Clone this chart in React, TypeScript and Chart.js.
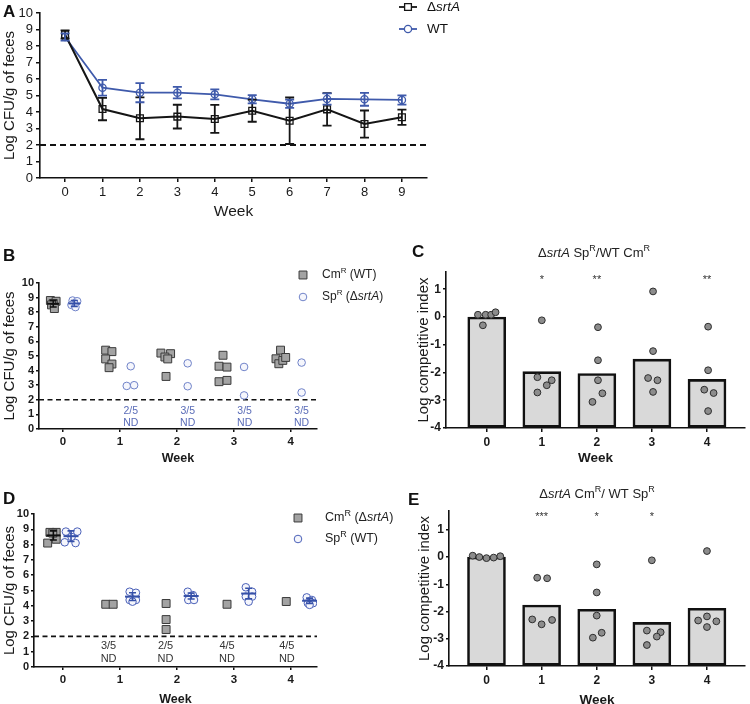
import React, { useEffect, useRef } from 'react';
import { Chart, registerables } from 'chart.js';

Chart.register(...registerables);

const FONT = "'Liberation Sans', Arial, Helvetica, sans-serif";

// ===== Panel A: weekly mean ± SD =====
const weeksA = [0, 1, 2, 3, 4, 5, 6, 7, 8, 9];
const srtAMean = [8.7, 4.18, 3.62, 3.72, 3.58, 4.08, 3.47, 4.16, 3.27, 3.68];
const srtASD = [0.25, 0.68, 1.27, 0.72, 0.85, 0.67, 1.41, 0.99, 0.82, 0.46];
const wtMean = [8.55, 5.47, 5.17, 5.17, 5.07, 4.77, 4.5, 4.79, 4.77, 4.73];
const wtSD = [0.22, 0.48, 0.58, 0.35, 0.3, 0.25, 0.25, 0.34, 0.39, 0.28];
const detectionLimit = 2;
const logCfuTicks = [0, 1, 2, 3, 4, 5, 6, 7, 8, 9, 10];

// ===== Panel B: CmR (WT) vs SpR (ΔsrtA) =====
const weeksBD = [0, 1, 2, 3, 4];
const bCmWT = [
  [8.8, 8.75, 8.6, 8.5, 8.25],
  [5.4, 5.3, 4.8, 4.45, 4.2],
  [5.2, 5.16, 4.93, 4.8, 3.6],
  [5.05, 4.3, 4.24, 3.24, 3.33],
  [5.4, 4.81, 4.47, 4.7, 4.9],
];
const bCmWTJitter = [
  [-0.22, -0.12, -0.17, -0.2, -0.15],
  [-0.25, -0.14, -0.25, -0.14, -0.19],
  [-0.28, -0.11, -0.21, -0.16, -0.19],
  [-0.19, -0.26, -0.12, -0.26, -0.12],
  [-0.18, -0.26, -0.21, -0.14, -0.09],
];
const bSpSrtA = [
  [8.8, 8.75, 8.6, 8.5, 8.35],
  [4.3, 2.95, 3.0],
  [4.5, 2.93],
  [4.25, 2.3],
  [4.55, 2.5],
];
const bSpSrtAJitter = [
  [0.17, 0.25, 0.2, 0.15, 0.22],
  [0.19, 0.12, 0.25],
  [0.19, 0.19],
  [0.18, 0.18],
  [0.19, 0.19],
];
const bCmWTMean = [8.58];
const bCmWTSD = [0.22];
const bSpSrtAMean = [8.6];
const bSpSrtASD = [0.2];
const bNotDetected = ['', '2/5', '3/5', '3/5', '3/5'];

// ===== Panel D: CmR (ΔsrtA) vs SpR (WT) =====
const dCmSrtA = [
  [8.1, 8.8, 8.8, 8.35, 8.75],
  [4.1, 4.1],
  [4.15, 3.1, 2.45],
  [4.1],
  [4.28],
];
const dCmSrtAJitter = [
  [-0.27, -0.23, -0.12, -0.12, -0.18],
  [-0.25, -0.12],
  [-0.19, -0.19, -0.19],
  [-0.12],
  [-0.08],
];
const dSpWT = [
  [8.85, 8.85, 8.5, 8.15, 8.1],
  [4.92, 4.85, 4.38, 4.38, 4.27],
  [4.92, 4.7, 4.6, 4.38, 4.38],
  [5.21, 4.92, 4.6, 4.6, 4.27],
  [4.55, 4.38, 4.17, 4.17, 4.06],
];
const dSpWTJitter = [
  [0.05, 0.25, 0.15, 0.03, 0.22],
  [0.17, 0.28, 0.17, 0.28, 0.22],
  [0.19, 0.28, 0.25, 0.2, 0.3],
  [0.21, 0.32, 0.21, 0.32, 0.26],
  [0.28, 0.37, 0.3, 0.39, 0.33],
];
const dCmSrtAMean = [8.6];
const dCmSrtASD = [0.3];
const dSpWTMean = [8.55, 4.6, 4.64, 4.8, 4.33];
const dSpWTSD = [0.35, 0.25, 0.2, 0.35, 0.17];
const dSpWTMeanJitter = [0.14, 0.22, 0.25, 0.26, 0.33];
const dNotDetected = ['', '3/5', '2/5', '4/5', '4/5'];
const dNotDetectedJitter = [0, -0.2, -0.2, -0.12, -0.07];

// ===== Panels C & E: competitive index =====
const weeksCE = [0, 1, 2, 3, 4];
const ciTicks = [-4, -3, -2, -1, 0, 1];
const cMeans = [0, -1.97, -2.04, -1.52, -2.25];
const cDots = [
  [0.08, 0.08, 0.08, 0.17, -0.3],
  [-0.12, -2.17, -2.28, -2.46, -2.72],
  [-0.37, -1.56, -2.28, -2.75, -3.06],
  [0.92, -1.23, -2.2, -2.28, -2.7],
  [-0.35, -1.92, -2.62, -2.74, -3.39],
];
const cDotsJitter = [
  [-0.16, -0.02, 0.08, 0.16, -0.07],
  [0, -0.08, 0.18, 0.09, -0.08],
  [0.02, 0.02, 0.02, 0.1, -0.08],
  [0.02, 0.02, -0.07, 0.1, 0.02],
  [0.02, 0.02, -0.05, 0.12, 0.02],
];
const cStars = ['', '*', '**', '', '**'];

const eMeans = [0, -1.76, -1.92, -2.4, -1.88];
const eDots = [
  [0.05, 0, -0.04, -0.02, 0.03],
  [-0.76, -0.78, -2.29, -2.31, -2.47],
  [-0.27, -1.3, -2.15, -2.78, -2.96],
  [-0.12, -2.7, -2.76, -2.92, -3.23],
  [0.22, -2.33, -2.18, -2.36, -2.57],
];
const eDotsJitter = [
  [-0.25, -0.13, 0, 0.13, 0.25],
  [-0.08, 0.1, -0.17, 0.19, 0],
  [0, 0, 0, 0.09, -0.07],
  [0, -0.09, 0.16, 0.09, -0.09],
  [0, -0.16, 0, 0.17, 0],
];
const eStars = ['', '***', '*', '*', ''];

// ===== helpers =====
type Seg = { t: string; it?: boolean; sup?: boolean };

function drawRich(ctx: any, segs: Seg[], x: number, y: number, size: number, color: string, align: string, bold?: boolean) {
  const w = bold ? 'bold ' : '';
  const fontOf = (s: Seg) => `${s.it ? 'italic ' : ''}${w}${s.sup ? Math.round(size * 0.7) : size}px ${FONT}`;
  let total = 0;
  const widths = segs.map((s) => {
    ctx.font = fontOf(s);
    const m = ctx.measureText(s.t).width;
    total += m;
    return m;
  });
  let cx = align === 'center' ? x - total / 2 : align === 'right' ? x - total : x;
  ctx.fillStyle = color;
  ctx.textAlign = 'left';
  ctx.textBaseline = 'middle';
  segs.forEach((s, i) => {
    ctx.font = fontOf(s);
    ctx.fillText(s.t, cx, s.sup ? y - size * 0.36 : y);
    cx += widths[i];
  });
}

type Note = { segs: Seg[]; x: number; y: number; data?: boolean; size: number; color: string; bold?: boolean; align?: string };
type Key = { kind: string; line?: boolean; x: number; y: number; r: number; stroke: string; fill: string; lw?: number };

function decorPlugin(notes: Note[], keys: Key[] = []) {
  return {
    id: 'decor',
    afterDraw(chart: any) {
      const ctx = chart.ctx;
      ctx.save();
      for (const k of keys) {
        ctx.lineWidth = k.lw ?? 1.2;
        ctx.strokeStyle = k.stroke;
        ctx.fillStyle = k.fill;
        if (k.line) {
          ctx.beginPath();
          ctx.moveTo(k.x - 9, k.y);
          ctx.lineTo(k.x + 9, k.y);
          ctx.lineWidth = 1.8;
          ctx.stroke();
          ctx.lineWidth = k.lw ?? 1.2;
        }
        ctx.beginPath();
        if (k.kind === 'rect') {
          const h = k.r * Math.SQRT1_2;
          ctx.rect(k.x - h, k.y - h, 2 * h, 2 * h);
        } else {
          ctx.arc(k.x, k.y, k.r, 0, Math.PI * 2);
        }
        ctx.fill();
        ctx.stroke();
      }
      for (const n of notes) {
        let x = n.x;
        let y = n.y;
        if (n.data) {
          x = chart.scales.x.getPixelForValue(n.x);
          y = chart.scales.y.getPixelForValue(n.y);
        }
        drawRich(ctx, n.segs, x, y, n.size, n.color, n.align ?? 'center', n.bold);
      }
      ctx.restore();
    },
  };
}

const errorBarPlugin = {
  id: 'errorBars',
  afterDatasetsDraw(chart: any) {
    const ctx = chart.ctx;
    const ys = chart.scales.y;
    chart.data.datasets.forEach((ds: any, di: number) => {
      if (!ds.errorBars) return;
      const meta = chart.getDatasetMeta(di);
      ctx.save();
      ctx.strokeStyle = ds.errorColor;
      ctx.lineWidth = ds.errorWidth ?? 1.6;
      meta.data.forEach((el: any, i: number) => {
        const p = ds.data[i];
        const sd = ds.errorBars[i];
        const x = el.x;
        const yTop = ys.getPixelForValue(p.y + sd);
        const yBot = ys.getPixelForValue(p.y - sd);
        const cw = ds.capWidth ?? 4;
        ctx.beginPath();
        ctx.moveTo(x, yTop);
        ctx.lineTo(x, yBot);
        ctx.moveTo(x - cw, yTop);
        ctx.lineTo(x + cw, yTop);
        ctx.moveTo(x - cw, yBot);
        ctx.lineTo(x + cw, yBot);
        ctx.stroke();
      });
      ctx.restore();
    });
  },
};

function axis(o: any, isX: boolean) {
  return {
    type: 'linear',
    min: o.min,
    max: o.max,
    offset: false,
    afterBuildTicks: (s: any) => {
      s.ticks = o.ticks.map((v: number) => ({ value: v }));
    },
    afterFit: (s: any) => {
      if (isX) s.height = o.size;
      else s.width = o.size;
    },
    grid: { display: true, drawOnChartArea: false, drawTicks: true, tickLength: o.tickLength ?? 4, color: '#111', lineWidth: 1.5, offset: false },
    border: { display: true, color: '#111', width: 1.6 },
    ticks: { font: o.tickFont, color: '#1a1a1a', padding: o.tickPad ?? 3, autoSkip: false, maxRotation: 0 },
    title: o.title
      ? { display: true, text: o.title, font: o.titleFont, color: '#1a1a1a', padding: o.titlePad }
      : { display: false },
  };
}

const scatterPoints = (weeks: number[], vals: number[][], jitter: number[][]) =>
  vals.flatMap((col, i) => col.map((v, j) => ({ x: weeks[i] + jitter[i][j], y: v })));

const meanPoints = (weeks: number[], means: number[], offs: number[]) =>
  means.map((m, i) => ({ x: weeks[i] + offs[i], y: m }));

const letter = (t: string, x: number, y: number): Note => ({ segs: [{ t }], x, y, size: 17, color: '#111', bold: true, align: 'left' });

const baseOptions = (padding: any, scales: any) => ({
  animation: false,
  responsive: false,
  events: [],
  layout: { padding },
  plugins: { legend: { display: false }, tooltip: { enabled: false }, title: { display: false } },
  scales,
});

// ===== chart builders =====
function buildA() {
  const xMin = -0.67;
  const xMax = 9.67;
  return {
    type: 'line',
    data: {
      datasets: [
        {
          label: 'ΔsrtA',
          data: weeksA.map((w, i) => ({ x: w, y: srtAMean[i] })),
          borderColor: '#151515',
          borderWidth: 2,
          pointStyle: 'rect',
          pointRadius: 4.8,
          pointBackgroundColor: 'rgba(0,0,0,0)',
          pointBorderColor: '#151515',
          pointBorderWidth: 1.3,
          fill: false,
          tension: 0,
          errorBars: srtASD,
          errorColor: '#151515',
          errorWidth: 1.8,
          capWidth: 4.5,
        },
        {
          label: 'WT',
          data: weeksA.map((w, i) => ({ x: w, y: wtMean[i] })),
          borderColor: '#3f5aab',
          borderWidth: 1.8,
          pointStyle: 'circle',
          pointRadius: 3.6,
          pointBackgroundColor: 'rgba(0,0,0,0)',
          pointBorderColor: '#3f5aab',
          pointBorderWidth: 1.3,
          fill: false,
          tension: 0,
          errorBars: wtSD,
          errorColor: '#3f5aab',
          errorWidth: 1.8,
          capWidth: 4.5,
        },
        {
          label: 'LOD',
          data: [{ x: xMin, y: detectionLimit }, { x: xMax, y: detectionLimit }],
          borderColor: '#111',
          borderWidth: 1.8,
          borderDash: [6, 4],
          pointRadius: 0,
          fill: false,
        },
      ],
    },
    options: baseOptions({ left: 0, top: 13, right: 43, bottom: 0 }, {
      x: axis({ min: xMin, max: xMax, ticks: weeksA, size: 47, tickFont: { family: FONT, size: 13 }, title: 'Week', titleFont: { family: FONT, size: 15.5 }, titlePad: { top: 0, bottom: 4 } }, true),
      y: axis({ min: 0, max: 10, ticks: logCfuTicks, size: 40, tickFont: { family: FONT, size: 13 }, title: 'Log CFU/g of feces', titleFont: { family: FONT, size: 15 }, titlePad: { top: 1, bottom: 0 } }, false),
    }),
    plugins: [
      errorBarPlugin,
      decorPlugin(
        [
          letter('A', 3, 12.5),
          { segs: [{ t: 'Δ' }, { t: 'srtA', it: true }], x: 427, y: 7, size: 13.5, color: '#111', align: 'left' },
          { segs: [{ t: 'WT' }], x: 427, y: 29, size: 13.5, color: '#111', align: 'left' },
        ],
        [
          { kind: 'rect', line: true, x: 408, y: 7, r: 4.8, stroke: '#151515', fill: '#fff', lw: 1.3 },
          { kind: 'circle', line: true, x: 408, y: 29, r: 3.6, stroke: '#3f5aab', fill: '#fff', lw: 1.3 },
        ]
      ),
    ],
  };
}

function scatterPanel(cfg: any) {
  return {
    type: 'scatter',
    data: {
      datasets: [
        ...cfg.means,
        {
          label: cfg.sqLabel,
          data: scatterPoints(weeksBD, cfg.sqVals, cfg.sqJit),
          pointStyle: 'rect',
          pointRadius: 5.6,
          pointBackgroundColor: '#a3a3a3',
          pointBorderColor: '#3a3a3a',
          pointBorderWidth: 1,
        },
        {
          label: cfg.ciLabel,
          data: scatterPoints(weeksBD, cfg.ciVals, cfg.ciJit),
          pointStyle: 'circle',
          pointRadius: 3.8,
          pointBackgroundColor: '#f5f6fc',
          pointBorderColor: cfg.ciColor,
          pointBorderWidth: 1,
        },
        {
          label: 'LOD',
          type: 'line',
          data: [{ x: cfg.xMin, y: detectionLimit }, { x: cfg.xMax, y: detectionLimit }],
          borderColor: '#111',
          borderWidth: 1.6,
          borderDash: [5, 3.5],
          pointRadius: 0,
          fill: false,
        },
      ],
    },
    options: baseOptions(cfg.padding, {
      x: axis({ min: cfg.xMin, max: cfg.xMax, ticks: weeksBD, size: cfg.xSize, tickLength: 3, tickFont: { family: FONT, size: 11.5, weight: 'bold' }, title: 'Week', titleFont: { family: FONT, size: 12.5, weight: 'bold' }, titlePad: { top: 0, bottom: cfg.weekPad } }, true),
      y: axis({ min: 0, max: 10, ticks: logCfuTicks, size: cfg.ySize, tickLength: 3, tickPad: 2, tickFont: { family: FONT, size: 11, weight: 'bold' }, title: 'Log CFU/g of feces', titleFont: { family: FONT, size: 15 }, titlePad: { top: 1, bottom: 0 } }, false),
    }),
    plugins: [errorBarPlugin, decorPlugin(cfg.notes, cfg.keys)],
  };
}

const meanDataset = (pts: any[], sd: number[], color: string, r: number) => ({
  label: 'mean',
  data: pts,
  pointStyle: 'line',
  pointRadius: r,
  pointBorderColor: color,
  pointBorderWidth: 2,
  pointBackgroundColor: color,
  errorBars: sd,
  errorColor: color,
  errorWidth: 1.6,
  capWidth: 3.5,
});

function buildB() {
  const ndNotes: Note[] = [];
  weeksBD.forEach((w, i) => {
    if (!bNotDetected[i]) return;
    ndNotes.push({ segs: [{ t: bNotDetected[i] }], x: w + 0.19, y: 1.2, data: true, size: 10.5, color: '#5a6cb8' });
    ndNotes.push({ segs: [{ t: 'ND' }], x: w + 0.19, y: 0.42, data: true, size: 10.5, color: '#5a6cb8' });
  });
  return scatterPanel({
    xMin: -0.42,
    xMax: 4.46,
    padding: { left: 0, top: 48, right: 73, bottom: 0 },
    xSize: 41,
    ySize: 39,
    weekPad: 4,
    sqLabel: 'CmR (WT)',
    sqVals: bCmWT,
    sqJit: bCmWTJitter,
    ciLabel: 'SpR (ΔsrtA)',
    ciVals: bSpSrtA,
    ciJit: bSpSrtAJitter,
    ciColor: '#6f82c8',
    means: [
      meanDataset(meanPoints(weeksBD, bCmWTMean, [-0.17]), bCmWTSD, '#111', 6),
      meanDataset(meanPoints(weeksBD, bSpSrtAMean, [0.2]), bSpSrtASD, '#3550a8', 6),
    ],
    notes: [
      letter('B', 3, 21),
      { segs: [{ t: 'Cm' }, { t: 'R', sup: true }, { t: ' (WT)' }], x: 322, y: 40, size: 12, color: '#222', align: 'left' },
      { segs: [{ t: 'Sp' }, { t: 'R', sup: true }, { t: ' (Δ' }, { t: 'srtA', it: true }, { t: ')' }], x: 322, y: 62, size: 12, color: '#222', align: 'left' },
      ...ndNotes,
    ],
    keys: [
      { kind: 'rect', x: 303, y: 40, r: 5.6, stroke: '#3a3a3a', fill: '#a3a3a3', lw: 1 },
      { kind: 'circle', x: 303, y: 62, r: 3.8, stroke: '#6f82c8', fill: '#f5f6fc', lw: 1 },
    ],
  });
}

function buildD() {
  const ndNotes: Note[] = [];
  weeksBD.forEach((w, i) => {
    if (!dNotDetected[i]) return;
    ndNotes.push({ segs: [{ t: dNotDetected[i] }], x: w + dNotDetectedJitter[i], y: 1.37, data: true, size: 11, color: '#333' });
    ndNotes.push({ segs: [{ t: 'ND' }], x: w + dNotDetectedJitter[i], y: 0.5, data: true, size: 11, color: '#333' });
  });
  return scatterPanel({
    xMin: -0.51,
    xMax: 4.46,
    padding: { left: 0, top: 34, right: 78, bottom: 0 },
    xSize: 53,
    ySize: 34,
    weekPad: 13,
    sqLabel: 'CmR (ΔsrtA)',
    sqVals: dCmSrtA,
    sqJit: dCmSrtAJitter,
    ciLabel: 'SpR (WT)',
    ciVals: dSpWT,
    ciJit: dSpWTJitter,
    ciColor: '#4a60b8',
    means: [
      meanDataset(meanPoints(weeksBD, dCmSrtAMean, [-0.17]), dCmSrtASD, '#111', 7),
      meanDataset(meanPoints(weeksBD, dSpWTMean, dSpWTMeanJitter), dSpWTSD, '#3550a8', 7.5),
    ],
    notes: [
      letter('D', 3, 19),
      { segs: [{ t: 'Cm' }, { t: 'R', sup: true }, { t: ' (Δ' }, { t: 'srtA', it: true }, { t: ')' }], x: 325, y: 38, size: 12.5, color: '#222', align: 'left' },
      { segs: [{ t: 'Sp' }, { t: 'R', sup: true }, { t: ' (WT)' }], x: 325, y: 59, size: 12.5, color: '#222', align: 'left' },
      ...ndNotes,
    ],
    keys: [
      { kind: 'rect', x: 298, y: 38, r: 5.6, stroke: '#3a3a3a', fill: '#a3a3a3', lw: 1 },
      { kind: 'circle', x: 298, y: 59, r: 3.8, stroke: '#4a60b8', fill: '#f5f6fc', lw: 1 },
    ],
  });
}

function barPanel(cfg: any) {
  const starNotes: Note[] = weeksCE
    .map((w, i) => ({ segs: [{ t: cfg.stars[i] }], x: w, y: cfg.starY, data: true, size: 11, color: '#333' }))
    .filter((n) => n.segs[0].t);
  return {
    type: 'bar',
    data: {
      datasets: [
        {
          type: 'scatter',
          label: 'mice',
          order: 0,
          data: scatterPoints(weeksCE, cfg.dots, cfg.jit),
          pointStyle: 'circle',
          pointRadius: 3.4,
          pointBackgroundColor: '#8c8c8c',
          pointBorderColor: '#2e2e2e',
          pointBorderWidth: 1,
        },
        {
          type: 'bar',
          label: 'mean',
          order: 1,
          data: weeksCE.map((w, i) => ({ x: w, y: cfg.means[i] })),
          base: -4,
          barThickness: 38,
          backgroundColor: '#d9d9d9',
          borderColor: '#111',
          borderWidth: 2.6,
          borderSkipped: false,
        },
      ],
    },
    options: baseOptions(cfg.padding, {
      x: axis({ min: cfg.xMin, max: cfg.xMax, ticks: weeksCE, size: cfg.xSize, tickLength: 4, tickFont: { family: FONT, size: 12, weight: 'bold' }, title: 'Week', titleFont: { family: FONT, size: 13.5, weight: 'bold' }, titlePad: { top: 0, bottom: cfg.weekPad } }, true),
      y: axis({ min: -4, max: cfg.yMax, ticks: ciTicks, size: cfg.ySize, tickLength: 3, tickPad: 2, tickFont: { family: FONT, size: 12, weight: 'bold' }, title: 'Log competitive index', titleFont: { family: FONT, size: 15 }, titlePad: { top: 0, bottom: 0 } }, false),
    }),
    plugins: [decorPlugin([letter(cfg.letter, cfg.letterX, cfg.letterY), cfg.title, ...starNotes])],
  };
}

function buildC() {
  return barPanel({
    letter: 'C', letterX: 37, letterY: 12.5,
    title: { segs: [{ t: 'Δ' }, { t: 'srtA', it: true }, { t: ' Sp' }, { t: 'R', sup: true }, { t: '/WT Cm' }, { t: 'R', sup: true }], x: 219, y: 13, size: 13, color: '#222' },
    stars: cStars, starY: 1.33,
    dots: cDots, jit: cDotsJitter, means: cMeans,
    xMin: -0.74, xMax: 4.69, yMax: 1.62,
    padding: { left: 40, top: 32, right: 2, bottom: 0 },
    xSize: 47, ySize: 31, weekPad: 9,
  });
}

function buildE() {
  return barPanel({
    letter: 'E', letterX: 33, letterY: 20,
    title: { segs: [{ t: 'Δ' }, { t: 'srtA', it: true }, { t: ' Cm' }, { t: 'R', sup: true }, { t: '/ WT Sp' }, { t: 'R', sup: true }], x: 222, y: 14, size: 13, color: '#222' },
    stars: eStars, starY: 1.47,
    dots: eDots, jit: eDotsJitter, means: eMeans,
    xMin: -0.68, xMax: 4.69, yMax: 1.69,
    padding: { left: 41, top: 31, right: 2, bottom: 0 },
    xSize: 54, ySize: 33, weekPad: 12,
  });
}

function ChartCanvas({ left, top, width, height, build }: any) {
  const ref = useRef<HTMLCanvasElement>(null);
  useEffect(() => {
    const chart = new Chart(ref.current as HTMLCanvasElement, build());
    return () => chart.destroy();
  }, []);
  return (
    <canvas
      ref={ref}
      width={width}
      height={height}
      style={{ position: 'absolute', left, top, width, height, display: 'block' }}
    />
  );
}

export default function App() {
  return (
    <div style={{ position: 'absolute', left: 0, top: 0, width: 750, height: 704, overflow: 'hidden', background: '#fff' }}>
      <ChartCanvas left={0} top={0} width={470} height={225} build={buildA} />
      <ChartCanvas left={0} top={235} width={390} height={235} build={buildB} />
      <ChartCanvas left={375} top={240} width={375} height={235} build={buildC} />
      <ChartCanvas left={0} top={480} width={395} height={240} build={buildD} />
      <ChartCanvas left={375} top={480} width={375} height={240} build={buildE} />
    </div>
  );
}
